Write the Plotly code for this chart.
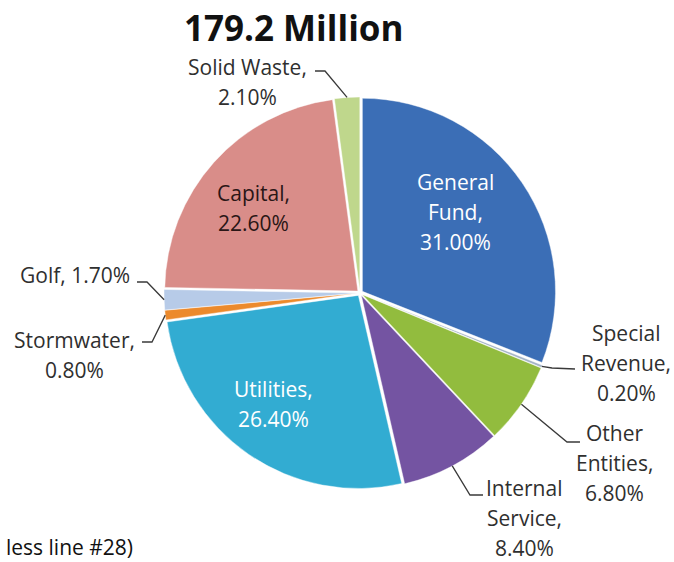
import math
import plotly.graph_objects as go

# Budget share by fund (percent of 179.2 million)
labels = ["General Fund", "Special Revenue", "Other Entities", "Internal Service",
          "Utilities", "Stormwater", "Golf", "Capital", "Solid Waste"]
shares = [31.0, 0.2, 6.8, 8.4, 26.4, 0.8, 1.7, 22.6, 2.1]
colors = ["#3b6eb6", "#a3b3c6", "#92bc3e", "#7454a2", "#32acd2",
          "#ec8a2c", "#b7cbe8", "#d98d89", "#bfd78c"]

title_text = "179.2 Million"
footer_text = "less line #28)"

W, H = 674, 562
CX, CY, R_OUT = 360, 293, 196   # pie centre and outer reach in pixels
PULL = 0.015
LINE_GAP = 30                   # spacing between label lines in pixels
FONT = "Open Sans"
TEXT_DARK = "#2f2f2f"


def px(x):
    return x / W


def py(y):
    return 1 - y / H


# label placement: block centre / first line, wrapping mode, colour, leader elbow + end
label_style = {
    "General Fund":     dict(pos=(455, 182), wrap="words", color="white"),
    "Special Revenue":  dict(pos=(626, 333), wrap="words", color=TEXT_DARK,
                             leader=[(552, 368), (575, 369)]),
    "Other Entities":   dict(pos=(614, 433), wrap="words", color=TEXT_DARK,
                             leader=[(567, 442), (580, 442)]),
    "Internal Service": dict(pos=(524, 488), wrap="words", color=TEXT_DARK,
                             leader=[(470, 495), (483, 495)]),
    "Utilities":        dict(pos=(273, 389), wrap="name", color="white"),
    "Stormwater":       dict(pos=(74, 340), wrap="name", color=TEXT_DARK,
                             leader=[(152, 342), (142, 342)]),
    "Golf":             dict(pos=(75, 275), wrap="single", color=TEXT_DARK,
                             leader=[(147, 282), (137, 282)]),
    "Capital":          dict(pos=(253, 193), wrap="name", color="#2a1616"),
    "Solid Waste":      dict(pos=(247, 67), wrap="name", color=TEXT_DARK,
                             leader=[(325, 71), (315, 71)]),
}


def label_lines(name, share, wrap):
    pct = f"{share:.2f}%"
    if wrap == "single":
        return [f"{name}, {pct}"]
    if wrap == "words":
        words = name.split()
        words[-1] += ","
        return words + [pct]
    return [name + ",", pct]


fig = go.Figure(go.Pie(
    labels=labels,
    values=shares,
    sort=False,
    direction="clockwise",
    rotation=0,
    pull=[PULL] * len(shares),
    marker=dict(colors=colors, line=dict(color="rgba(255,255,255,0.7)", width=0.6)),
    textinfo="none",
    hovertemplate="%{label}: %{value:.2f}%<extra></extra>",
    domain=dict(x=[px(CX - R_OUT), px(CX + R_OUT)],
                y=[py(CY + R_OUT), py(CY - R_OUT)]),
    showlegend=False,
))

annotations = []
shapes = []
total = sum(shares)
cum = 0.0
for name, share in zip(labels, shares):
    theta = 2 * math.pi * (cum + share / 2) / total
    cum += share
    st = label_style[name]
    bx, by = st["pos"]
    for i, line in enumerate(label_lines(name, share, st["wrap"])):
        annotations.append(dict(
            x=px(bx), y=py(by + i * LINE_GAP), xref="paper", yref="paper",
            text=line, showarrow=False, xanchor="center", yanchor="middle",
            font=dict(family=FONT, size=21, color=st["color"]),
        ))
    if "leader" in st:
        ex = CX + R_OUT * math.sin(theta)
        ey = CY - R_OUT * math.cos(theta)
        pts = [(ex, ey)] + st["leader"]
        path = "M " + " L ".join(f"{px(x):.5f},{py(y):.5f}" for x, y in pts)
        shapes.append(dict(type="path", path=path, xref="paper", yref="paper",
                           line=dict(color="#3a3a3a", width=1.3)))

annotations.append(dict(
    x=px(294), y=py(27), xref="paper", yref="paper", text=f"<b>{title_text}</b>",
    showarrow=False, xanchor="center", yanchor="middle",
    font=dict(family=FONT, size=35, color="#111111"),
))
annotations.append(dict(
    x=px(4), y=py(547), xref="paper", yref="paper", text=footer_text,
    showarrow=False, xanchor="left", yanchor="middle",
    font=dict(family=FONT, size=21, color="#111111"),
))

fig.update_layout(
    width=W, height=H,
    margin=dict(l=0, r=0, t=0, b=0),
    paper_bgcolor="white", plot_bgcolor="white",
    annotations=annotations, shapes=shapes,
)

fig.write_html("out.html")
